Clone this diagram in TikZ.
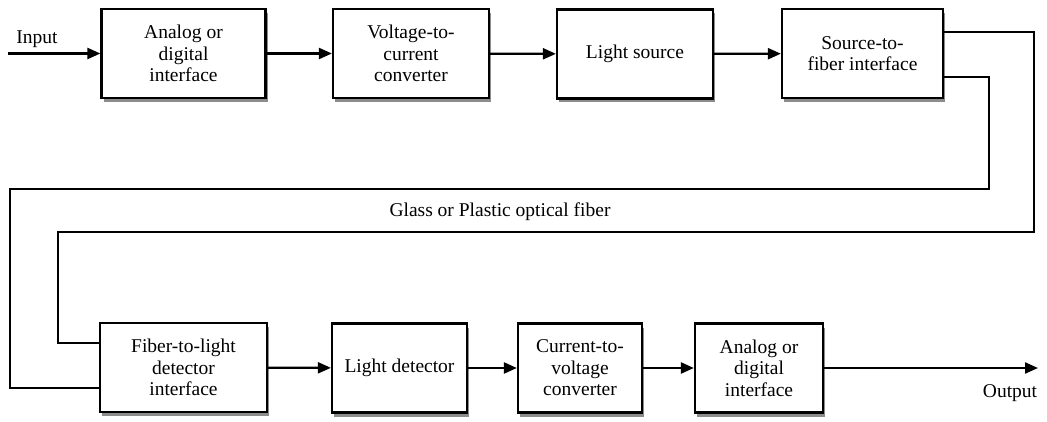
\documentclass[tikz,border=0pt]{standalone}
\usepackage{fontspec}
\setmainfont{Liberation Serif}
\usetikzlibrary{arrows.meta, positioning, shadows}

\begin{document}
\begin{tikzpicture}[
    x=1pt, y=-1pt,
    blk/.style={draw, line width=2.2pt, fill=white, minimum height=89pt, align=center,
        font=\fontsize{19.5}{21.5}\selectfont,
        drop shadow={shadow xshift=2pt, shadow yshift=-4pt, fill=black!45, opacity=1}},
    lbl/.style={font=\fontsize{19.5}{21.5}\selectfont, inner sep=1pt},
    fib/.style={line width=1.8pt},
    ->, >={Triangle[length=13pt, width=11pt]}, line width=2.2pt
]
    \useasboundingbox (0,0) rectangle (1047,422);

    % Transmitter (top row)
    \node[blk, minimum width=164pt] (ai) at (183.5,53.5) {Analog or\\digital\\interface};
    \node[blk, minimum width=156pt] (vc) at (411,53.5)   {Voltage-to-\\current\\converter};
    \node[blk, minimum width=156pt] (ls) at (635,54)     {Light source};
    \node[blk, minimum width=161pt] (sf) at (862.5,53.5) {Source-to-\\fiber interface};

    % Receiver (bottom row)
    \node[blk, minimum width=167pt] (fd) at (183.5,367.5) {Fiber-to-light\\detector\\interface};
    \node[blk, minimum width=135pt] (ld) at (399.5,368)   {Light detector};
    \node[blk, minimum width=124pt] (cv) at (580,368)     {Current-to-\\voltage\\converter};
    \node[blk, minimum width=128pt] (ao) at (759,368)     {Analog or\\digital\\interface};

    % Input / output ends
    \coordinate (in)  at (8,53.5);
    \coordinate (out) at (1038,368);
    \node[lbl] (inl)  at (37,39)   {Input};
    \node[lbl] (outl) at (1010,393) {Output};

    % Signal path
    \draw (in) -- (ai);
    \draw (ai) -- (vc);
    \draw (vc) -- (ls);
    \draw (ls) -- (sf);
    \draw (fd) -- (ld);
    \draw (ld) -- (cv);
    \draw (cv) -- (ao);
    \draw (ao) -- (out);

    % Fiber loop
    \draw[fib, -] ([yshift=21.5pt]sf.east) -| (1034,232) -| (58,343) -- ([yshift=24.5pt]fd.west);
    \draw[fib, -] ([yshift=-23.5pt]sf.east) -| (989,189) -| (10,388) -- ([yshift=-20.5pt]fd.west);
    \node[lbl] (fibl) at (500,212) {Glass or Plastic optical fiber};
\end{tikzpicture}
\end{document}
